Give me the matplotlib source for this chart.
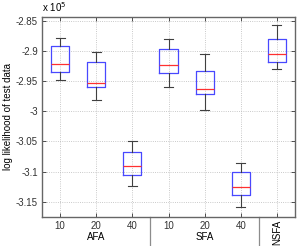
import matplotlib
matplotlib.use("Agg")
import matplotlib.pyplot as plt
import matplotlib.transforms as mtransforms

plt.rcParams['font.family'] = ['Liberation Sans', 'DejaVu Sans']
plt.rcParams['axes.unicode_minus'] = False

# values in units of 1e5
labels = ["10", "20", "40", "10", "20", "40", ""]
whishi = [-2.878, -2.902, -3.049, -2.880, -2.906, -3.086, -2.858]
q3 = [-2.892, -2.919, -3.067, -2.897, -2.934, -3.100, -2.881]
med = [-2.922, -2.954, -3.090, -2.923, -2.963, -3.126, -2.905]
q1 = [-2.935, -2.960, -3.105, -2.937, -2.972, -3.138, -2.919]
whislo = [-2.949, -2.981, -3.123, -2.960, -2.998, -3.159, -2.930]
groups = ["AFA", "SFA"]
group_pos = [2, 5]
yticks = [-2.85, -2.9, -2.95, -3, -3.05, -3.1, -3.15]
ytick_labels = ["-2.85", "-2.9", "-2.95", "-3", "-3.05", "-3.1", "-3.15"]

stats = []
for i in range(len(med)):
    stats.append(dict(med=med[i], q1=q1[i], q3=q3[i], whislo=whislo[i], whishi=whishi[i], fliers=[]))

fig = plt.figure(figsize=(2.99, 2.46), dpi=100)
ax = fig.add_axes([0.1405, 0.1179, 0.8461, 0.8130])

pos = list(range(1, len(med) + 1))
ax.bxp(stats, positions=pos, widths=0.5, showfliers=False,
       boxprops=dict(color='#4848ff', lw=0.9),
       medianprops=dict(color='#ff3030', lw=0.9),
       whiskerprops=dict(color='0.25', lw=0.8),
       capprops=dict(color='0.25', lw=0.8),
       capwidths=0.25)

ax.set_xlim(0.5, 7.5)
ax.set_ylim(-3.175, -2.844)
ax.set_xticks(pos)
ax.set_xticklabels(labels, fontsize=7)
ax.set_yticks(yticks)
ax.set_yticklabels(ytick_labels, fontsize=7)
ax.tick_params(direction='in', length=3, width=0.6, top=True, right=True, pad=3, colors='0.2')
ax.grid(True, linestyle=':', color='0.72', lw=0.6)
ax.set_axisbelow(True)
for s in ax.spines.values():
    s.set_color('0.4')
    s.set_linewidth(1.0)

ax.set_ylabel("log likelihood of test data", fontsize=7, labelpad=2)
ax.text(0.0, 1.015, r"x 10$^5$", transform=ax.transAxes, fontsize=7, ha='left', va='bottom')

tr = mtransforms.blended_transform_factory(ax.transData, ax.transAxes)
for xs in [3.5, 6.5]:
    ax.plot([xs, xs], [0, -0.15], color='0.55', lw=0.9, transform=tr, clip_on=False)
for g, p in zip(groups, group_pos):
    ax.text(p, -0.1, g, transform=tr, fontsize=7, ha='center', va='center')
ax.text(7, -0.075, "NSFA", transform=tr, fontsize=7, ha='center', va='center', rotation=90)

fig.savefig("out.png", dpi=100)
